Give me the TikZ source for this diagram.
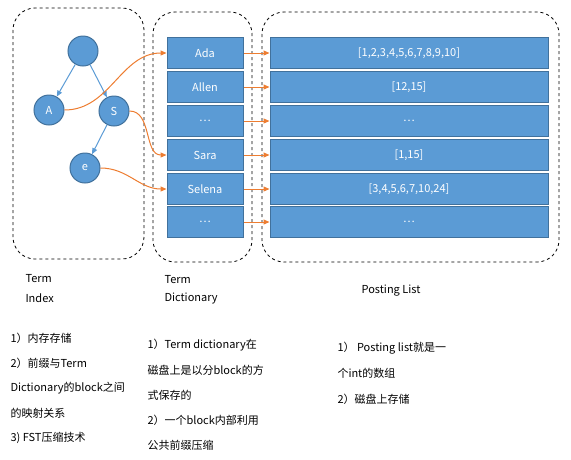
\documentclass[tikz,border=0pt]{standalone}
\usepackage{fontspec}
\setmainfont{Noto Sans CJK SC}
\usetikzlibrary{positioning}
\usetikzlibrary{arrows.meta}
\definecolor{cellblue}{HTML}{5B9BD5}
\definecolor{celledge}{HTML}{41719C}
\definecolor{linkorange}{HTML}{ED7D31}
\tikzset{
    treenode/.style = {circle, draw=celledge, fill=cellblue, text=white, minimum size=30pt, inner sep=0pt, font=\fontsize{11}{13}\selectfont},
    dictcell/.style = {rectangle, draw=celledge, fill=cellblue, text=white, minimum width=76pt, minimum height=31pt, inner sep=0pt, font=\fontsize{11}{13}\selectfont},
    postcell/.style = {dictcell, minimum width=278pt},
    areabox/.style = {draw=black, dashed, line width=0.8pt, rounded corners=22pt},
    note/.style = {anchor=west, inner sep=0pt, font=\fontsize{11}{13}\selectfont},
}

\begin{document}
\begin{tikzpicture}[
	x=1pt, y=-1pt,
	line width=1pt
]
\tikzset{
    edget/.style = {-{Triangle[length=6pt,width=5pt]}, cellblue},
    edgeo/.style = {-{Triangle[length=6pt,width=5pt]}, linkorange}
}
\useasboundingbox (0,0) rectangle (571,459);
% dashed areas
\draw[areabox] (13,8) rectangle (144,259);
\draw[areabox] (153,12) rectangle (252,262);
\draw[areabox] (262,12) rectangle (559,262);
%
\node[treenode] at (83,51) (root) {};
\node[treenode] at (49,110) (a) {A};
\node[treenode] at (114,111) (s) {S};
\node[treenode] at (85,168) (e) {e};
%
\node[dictcell] at (205,53) (ada) {Ada};
\node[dictcell] at (205,87) (allen) {Allen};
\node[dictcell] at (205,121) (dots1) {…};
\node[dictcell] at (205,155) (sara) {Sara};
\node[dictcell] at (205,189) (selena) {Selena};
\node[dictcell] at (205,222) (dots2) {…};
%
\node[postcell] at (409,53) (p1) {[1,2,3,4,5,6,7,8,9,10]};
\node[postcell] at (409,87) (p2) {[12,15]};
\node[postcell] at (409,121) (p3) {…};
\node[postcell] at (409,155) (p4) {[1,15]};
\node[postcell] at (409,189) (p5) {[3,4,5,6,7,10,24]};
\node[postcell] at (409,222) (p6) {…};
%
\draw[edget] (root) -- (a);
\draw[edget] (root) -- (s);
\draw[edget] (s) -- (e);
%
\draw[edgeo] (a.east) to[out=0,in=180] (ada.west);
\draw[edgeo] (s.east) to[out=0,in=180] (sara.west);
\draw[edgeo] (e.east) to[out=0,in=180] (selena.west);
%
\draw[edgeo] (ada) -- (p1);
\draw[edgeo] (allen) -- (p2);
\draw[edgeo] (dots1) -- (p3);
\draw[edgeo] (sara) -- (p4);
\draw[edgeo] (selena) -- (p5);
\draw[edgeo] (dots2) -- (p6);
%
\node[note] at (25,279) (ti1) {Term};
\node[note] at (25,298) (ti2) {Index};
\node[note] at (164,280) (td1) {Term};
\node[note] at (164,299) (td2) {Dictionary};
\node[note, anchor=center] at (391,291) (pl) {Posting List};
%
\node[note] at (10,338) (n11) {1）内存存储};
\node[note] at (10,363) (n12) {2）前缀与Term};
\node[note] at (10,388) (n13) {Dictionary的block之间};
\node[note] at (10,413) (n14) {的映射关系};
\node[note] at (10,438) (n15) {3) FST压缩技术};
%
\node[note] at (147,345) (n21) {1）Term dictionary在};
\node[note] at (147,370) (n22) {磁盘上是以分block的方};
\node[note] at (147,395) (n23) {式保存的};
\node[note] at (147,420) (n24) {2）一个block内部利用};
\node[note] at (147,445) (n25) {公共前缀压缩};
%
\node[note] at (337,348) (n31) {1）\ Posting list就是一};
\node[note] at (337,373) (n32) {个int的数组};
\node[note] at (337,399) (n33) {2）磁盘上存储};
\end{tikzpicture}
\end{document}
